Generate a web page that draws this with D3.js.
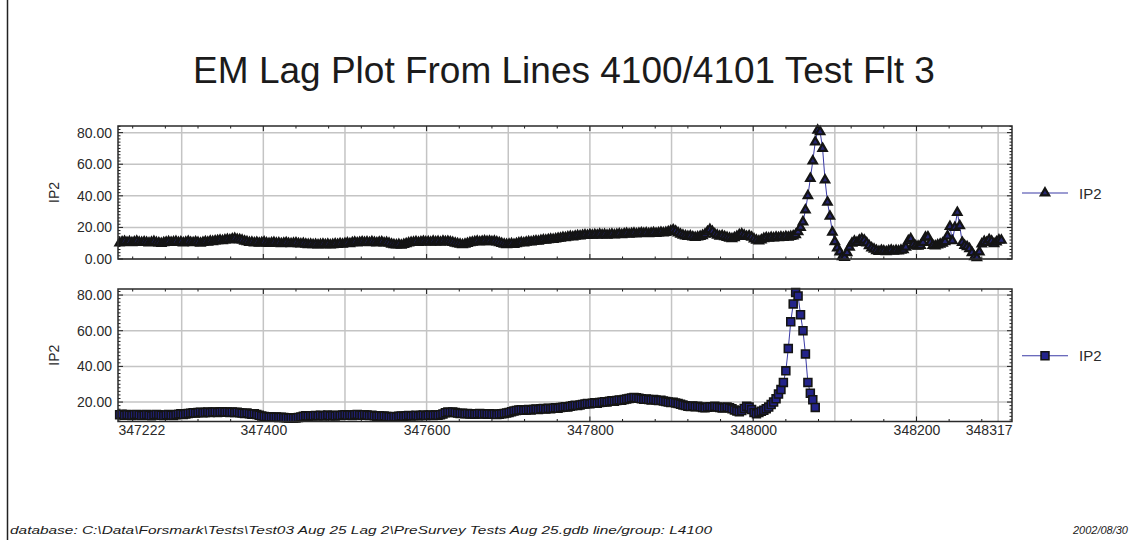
<!DOCTYPE html>
<html><head><meta charset="utf-8">
<script src="https://cdn.jsdelivr.net/npm/d3@7"></script>
<style>
html,body{margin:0;padding:0;background:#fff;}
svg{display:block;font-family:"Liberation Sans",Arial,sans-serif;}
</style></head><body>
<svg id="chart" width="1132" height="540"></svg>
<script>
// ---- chart text ----
const titleText = "EM Lag Plot From Lines 4100/4101 Test Flt 3";
const channelName = "IP2";
const footerLeft = "database: C:\\Data\\Forsmark\\Tests\\Test03 Aug 25 Lag 2\\PreSurvey Tests Aug 25.gdb  line/group: L4100";
const footerRight = "2002/08/30";

// ---- axes ----
const xDomain = [347222, 348317];
const xTickLabels = [347222, 347400, 347600, 347800, 348000, 348200, 348317];
const xGridValues = [347300, 347400, 347500, 347600, 347700, 347800, 347900, 348000, 348100, 348200, 348300];
const xMajorTicks = [347400, 347600, 347800, 348000, 348200];
const topYTicks = [0, 20, 40, 60, 80];
const bottomYTicks = [20, 40, 60, 80];
const topDomain = [0, 84.2];
const bottomDomain = [9.1, 83.4];

// ---- IP2, line 4100 (triangles), sampled every 3 fiducials ----
const topStart = 347224, topStep = 3;
const topValues = [
  10.2, 10.8, 11.1, 10.5, 10.9, 10.3, 10.7, 11.2, 10.6, 10.4,
  10.8, 10.5, 10.1, 10.6, 11.0, 10.4, 10.2, 9.8, 10.3, 10.6,
  10.9, 10.5, 10.7, 11.0, 10.4, 10.8, 10.2, 10.6, 11.1, 10.5,
  10.3, 10.8, 10.4, 10.0, 10.5, 10.9, 10.6, 11.2, 11.0, 11.4,
  11.6, 11.8, 11.5, 12.0, 12.3, 12.1, 12.6, 12.9, 12.4, 12.2,
  11.8, 11.3, 10.9, 10.4, 10.6, 10.2, 10.5, 10.0, 10.3, 10.7,
  10.1, 9.8, 10.2, 10.4, 9.9, 10.1, 9.7, 10.0, 10.3, 9.8,
  9.6, 9.9, 10.2, 9.7, 9.5, 9.8, 9.4, 9.1, 9.3, 9.0,
  9.2, 8.9, 9.1, 9.4, 9.0, 9.3, 8.8, 9.1, 9.5, 9.2,
  9.6, 9.3, 9.8, 10.1, 9.7, 10.3, 10.6, 10.2, 10.5, 10.8,
  10.4, 10.7, 10.3, 10.9, 10.5, 10.2, 10.6, 10.8, 10.1, 10.4,
  9.9, 9.4, 9.0, 8.8, 9.1, 8.7, 9.2, 9.6, 10.1, 10.4,
  10.6, 10.9, 10.5, 10.8, 11.1, 10.7, 10.9, 10.6, 11.2, 10.8,
  11.0, 10.6, 11.3, 10.9, 11.1, 10.8, 10.4, 10.0, 9.6, 9.3,
  9.0, 9.4, 9.8, 10.3, 10.6, 10.9, 11.2, 10.8, 11.1, 11.4,
  11.0, 11.3, 10.9, 11.2, 10.7, 10.3, 9.8, 9.4, 9.1, 9.3,
  9.6, 9.2, 9.7, 10.1, 10.4, 10.2, 10.6, 10.9, 10.7, 11.1,
  11.4, 11.2, 11.7, 12.0, 11.8, 12.2, 12.5, 12.3, 12.7, 13.0,
  13.2, 13.6, 13.4, 13.9, 14.2, 14.0, 14.4, 14.7, 14.5, 14.9,
  15.2, 14.9, 15.3, 15.0, 15.4, 15.1, 15.6, 15.2, 15.5, 15.0,
  15.3, 15.6, 15.2, 15.5, 15.8, 15.4, 15.9, 16.1, 15.7, 16.0,
  16.3, 15.9, 16.2, 16.5, 16.1, 16.4, 16.0, 16.3, 16.6, 16.2,
  16.5, 16.8, 16.4, 16.7, 17.2, 17.8, 18.4, 17.6, 16.5, 15.6,
  15.0, 14.6, 14.2, 14.5, 14.0, 13.6, 13.9, 14.3, 14.8, 15.6,
  17.2, 18.6, 17.4, 15.8, 15.0, 14.4, 14.7, 14.1, 13.6, 13.2,
  12.8, 13.4, 14.2, 15.3, 15.8, 15.0, 14.2, 14.6, 13.8, 12.6,
  11.8, 11.4, 12.0, 12.9, 13.4, 13.1, 13.6, 13.3, 13.8, 13.5,
  13.9, 13.6, 14.1, 13.8, 14.2, 14.6, 15.4, 17.2, 20.0, 23.5,
  31.0, 40.0, 51.0, 62.0, 74.0, 81.5, 80.5, 70.0, 50.0, 36.0,
  27.0, 17.0, 11.0, 7.0, 4.5, 1.5, 1.0, 4.0, 7.5, 10.0,
  11.2, 10.4, 11.8, 12.6, 11.9, 10.2, 8.4, 7.0, 6.2, 5.3,
  4.8, 5.4, 5.0, 4.6, 5.2, 5.6, 4.9, 5.3, 5.0, 5.5,
  5.8, 7.5, 11.5, 12.8, 9.2, 8.3, 8.0, 8.6, 10.5, 13.8,
  14.0, 10.5, 8.6, 8.3, 8.8, 9.4, 10.0, 11.0, 14.5, 20.5,
  11.5, 20.0, 29.5, 21.0, 10.5, 8.5, 7.8, 6.5, 4.0, 1.5,
  0.8, 4.5, 9.5, 11.0, 10.4, 12.2, 11.3, 9.6, 10.8, 12.0,
  11.8
];

// ---- IP2, line 4101 (squares), sampled every 3 fiducials ----
const bottomStart = 347224, bottomStep = 3;
const bottomValues = [
  12.9, 13.2, 12.6, 13.0, 12.7, 12.5, 12.9, 13.1, 12.8, 12.4,
  12.7, 13.0, 12.6, 12.3, 12.8, 13.1, 12.9, 12.6, 12.4, 12.8,
  13.0, 12.7, 12.5, 12.9, 13.2, 13.4, 13.0, 13.3, 13.6, 13.8,
  14.0, 13.8, 14.1, 14.3, 14.0, 14.2, 14.4, 14.1, 14.3, 14.5,
  14.2, 14.4, 14.6, 14.3, 14.5, 14.2, 14.4, 14.1, 14.3, 14.0,
  13.8, 13.6, 13.9, 13.5, 13.2, 13.4, 13.0, 12.6, 12.2, 11.9,
  11.8, 11.6, 11.7, 11.5, 11.6, 11.4, 11.5, 11.3, 11.2, 11.0,
  11.2, 11.0, 11.1, 11.4, 11.7, 12.0, 12.3, 12.1, 12.4, 12.2,
  12.5, 12.3, 12.6, 12.2, 12.4, 12.7, 12.3, 12.5, 12.2, 12.6,
  12.4, 12.7, 12.9, 12.6, 12.8, 12.5, 12.9, 13.1, 12.8, 12.6,
  12.9, 12.7, 12.4, 12.6, 12.3, 12.1, 12.3, 12.0, 12.2, 11.9,
  11.8, 11.6, 11.9, 11.7, 12.0, 12.2, 12.0, 12.3, 12.5, 12.2,
  12.4, 12.6, 12.3, 12.5, 12.7, 12.4, 12.6, 12.8, 12.5, 12.7,
  12.6, 12.9, 13.3, 14.0, 14.4, 14.2, 14.5, 14.1, 13.8, 13.6,
  13.7, 13.4, 13.6, 13.3, 13.5, 13.2, 13.4, 13.6, 13.3, 13.5,
  13.2, 13.4, 13.1, 13.3, 13.0, 13.2, 13.4, 13.6, 13.9, 14.2,
  14.6, 15.0, 15.3, 15.5, 15.7, 15.4, 15.6, 15.8, 15.5, 15.9,
  16.1, 15.8, 16.2, 16.4, 16.1, 16.5, 16.3, 16.6, 16.8, 16.5,
  16.9, 17.1, 17.4, 17.2, 17.6, 17.9, 18.2, 18.0, 18.4, 18.7,
  18.9, 19.2, 19.0, 19.4, 19.6, 19.3, 19.7, 19.9, 20.2, 20.0,
  20.4, 20.7, 20.5, 20.9, 21.2, 21.0, 21.4, 21.7, 22.0, 22.3,
  22.6, 22.4, 22.1, 21.8, 21.5, 21.7, 21.4, 21.2, 21.5, 21.1,
  20.8, 21.0, 20.6, 20.3, 20.0, 19.7, 19.9, 19.5, 19.2, 18.8,
  18.4, 18.0, 17.7, 17.5, 17.8, 17.4, 17.6, 17.3, 17.0, 16.8,
  17.1, 17.4, 17.2, 17.6, 17.3, 17.0, 16.7, 16.9, 17.2, 16.8,
  16.2, 15.6, 15.0, 14.6, 15.2, 16.4, 17.6, 17.2, 15.8, 14.2,
  13.4, 14.2, 14.8, 15.4, 16.2, 17.2, 18.6, 20.0, 21.8, 24.5,
  27.0, 31.0, 37.5, 50.0, 65.0, 75.0, 81.5, 79.5, 69.0, 60.0,
  47.0, 31.0, 25.0, 21.3, 17.0
];

// ---- layout ----
const W = 1132, H = 540;
const plotLeft = 118, plotRight = 1012;
const panels = [
  { top: 126, bottom: 259, domain: topDomain, ticks: topYTicks,
    start: topStart, step: topStep, values: topValues, symbol: "triangle" },
  { top: 289, bottom: 421.5, domain: bottomDomain, ticks: bottomYTicks,
    start: bottomStart, step: bottomStep, values: bottomValues, symbol: "square" }
];

const ink = "#1b1b1b";
const lineBlue = "#3a3aa6";
const gridGrey = "#c4c4c4";

const svg = d3.select("#chart");
svg.append("rect").attr("width", W).attr("height", H).attr("fill", "#fff");

// page frame edge
svg.append("line").attr("x1", 7.5).attr("x2", 7.5).attr("y1", 0).attr("y2", H)
  .attr("stroke", "#222").attr("stroke-width", 1.5);

// title
svg.append("text").attr("x", 564).attr("y", 83)
  .attr("text-anchor", "middle").attr("font-size", 37).attr("fill", ink)
  .text(titleText);

const x = d3.scaleLinear().domain(xDomain).range([plotLeft, plotRight]);
const fmt = d3.format(".2f");

function drawMarker(sel, kind) {
  if (kind === "triangle") {
    sel.attr("d", d3.symbol(d3.symbolTriangle, 30)())
      .attr("fill", "#262670").attr("stroke", "#141414").attr("stroke-width", 2.2)
      .attr("stroke-linejoin", "miter");
  } else {
    sel.attr("d", d3.symbol(d3.symbolSquare, 62)())
      .attr("fill", "#23238a").attr("stroke", "#141414").attr("stroke-width", 1.6);
  }
}

panels.forEach((p, idx) => {
  const y = d3.scaleLinear().domain(p.domain).range([p.bottom, p.top]);
  const g = svg.append("g");
  const data = p.values.map((v, i) => ({ fid: p.start + i * p.step, v }));

  // grid
  g.append("g").selectAll("line").data(p.ticks).join("line")
    .attr("x1", plotLeft).attr("x2", plotRight)
    .attr("y1", d => y(d)).attr("y2", d => y(d))
    .attr("stroke", gridGrey).attr("stroke-width", 1.5);
  g.append("g").selectAll("line").data(xGridValues).join("line")
    .attr("x1", d => x(d)).attr("x2", d => x(d))
    .attr("y1", p.top).attr("y2", p.bottom)
    .attr("stroke", gridGrey).attr("stroke-width", 1.5);

  // minor ticks on all four sides (drawn inward)
  const yMinor = d3.range(0, 86, 2).filter(v => v >= p.domain[0] && v <= p.domain[1] && v % 20 !== 0);
  const xMinor = d3.range(347240, 348317, 40).filter(v => v % 200 !== 0);
  const tickG = g.append("g").attr("stroke", ink).attr("stroke-width", 1);
  const tk = (x1, y1, x2, y2) => tickG.append("line").attr("x1", x1).attr("y1", y1).attr("x2", x2).attr("y2", y2);
  yMinor.forEach(v => { tk(plotLeft, y(v), plotLeft + 2.5, y(v)); tk(plotRight, y(v), plotRight - 2.5, y(v)); });
  p.ticks.forEach(v => { tk(plotLeft, y(v), plotLeft + 5, y(v)); tk(plotRight, y(v), plotRight - 5, y(v)); });
  xMinor.forEach(v => { tk(x(v), p.top, x(v), p.top + 2.5); tk(x(v), p.bottom, x(v), p.bottom - 2.5); });
  xMajorTicks.forEach(v => { tk(x(v), p.top, x(v), p.top + 5); tk(x(v), p.bottom, x(v), p.bottom - 5); });

  // y axis labels
  const yAxis = d3.axisLeft(y).tickValues(p.ticks).tickFormat(fmt).tickSize(0).tickPadding(6);
  const ya = g.append("g").attr("transform", `translate(${plotLeft},0)`).call(yAxis);
  ya.select(".domain").remove();
  ya.selectAll("text").attr("font-size", 14).attr("fill", "#2a2a2a")
    .attr("font-family", "'Liberation Sans', Arial, sans-serif");

  // axis title
  g.append("text")
    .attr("transform", `translate(59,${(p.top + p.bottom) / 2}) rotate(-90)`)
    .attr("text-anchor", "middle").attr("font-size", 14).attr("fill", "#2a2a2a")
    .text(channelName);

  // series line and markers
  const line = d3.line().x(d => x(d.fid)).y(d => y(d.v));
  g.append("path").datum(data).attr("d", line)
    .attr("fill", "none").attr("stroke", lineBlue).attr("stroke-width", 1);
  g.append("g").selectAll("path").data(data).join("path")
    .attr("transform", d => `translate(${x(d.fid)},${y(d.v)})`)
    .call(drawMarker, p.symbol);

  // frame
  g.append("rect").attr("x", plotLeft).attr("y", p.top)
    .attr("width", plotRight - plotLeft).attr("height", p.bottom - p.top)
    .attr("fill", "none").attr("stroke", "#2a2a2a").attr("stroke-width", 1.5);

  // legend
  const ly = (p.top + p.bottom) / 2 + 0.5;
  const lg = svg.append("g");
  lg.append("line").attr("x1", 1022).attr("x2", 1068).attr("y1", ly).attr("y2", ly)
    .attr("stroke", lineBlue).attr("stroke-width", 1.2);
  lg.append("path").attr("transform", `translate(1045,${ly})`).call(drawMarker, p.symbol);
  lg.append("text").attr("x", 1079).attr("y", ly + 5.5).attr("font-size", 15)
    .attr("fill", "#2a2a2a").text(channelName);

  // x tick labels under the lower panel
  if (idx === panels.length - 1) {
    const xAxis = d3.axisBottom(x).tickValues(xTickLabels).tickFormat(d3.format("d")).tickSize(0).tickPadding(4);
    const xa = g.append("g").attr("transform", `translate(0,${p.bottom})`).call(xAxis);
    xa.select(".domain").remove();
    xa.selectAll("text").attr("font-size", 14).attr("fill", "#2a2a2a")
      .attr("font-family", "'Liberation Sans', Arial, sans-serif")
      .attr("text-anchor", (d, i) => i === 0 ? "start" : (i === xTickLabels.length - 1 ? "end" : "middle"));
  }
});

// footer
svg.append("text").attr("x", 10).attr("y", 534).attr("font-size", 11)
  .attr("font-style", "italic").attr("fill", "#1b1b1b")
  .attr("textLength", 702).attr("lengthAdjust", "spacingAndGlyphs")
  .text(footerLeft);
svg.append("text").attr("x", 1128).attr("y", 534).attr("font-size", 11)
  .attr("font-style", "italic").attr("text-anchor", "end").attr("fill", "#1b1b1b")
  .text(footerRight);
</script>
</body></html>
